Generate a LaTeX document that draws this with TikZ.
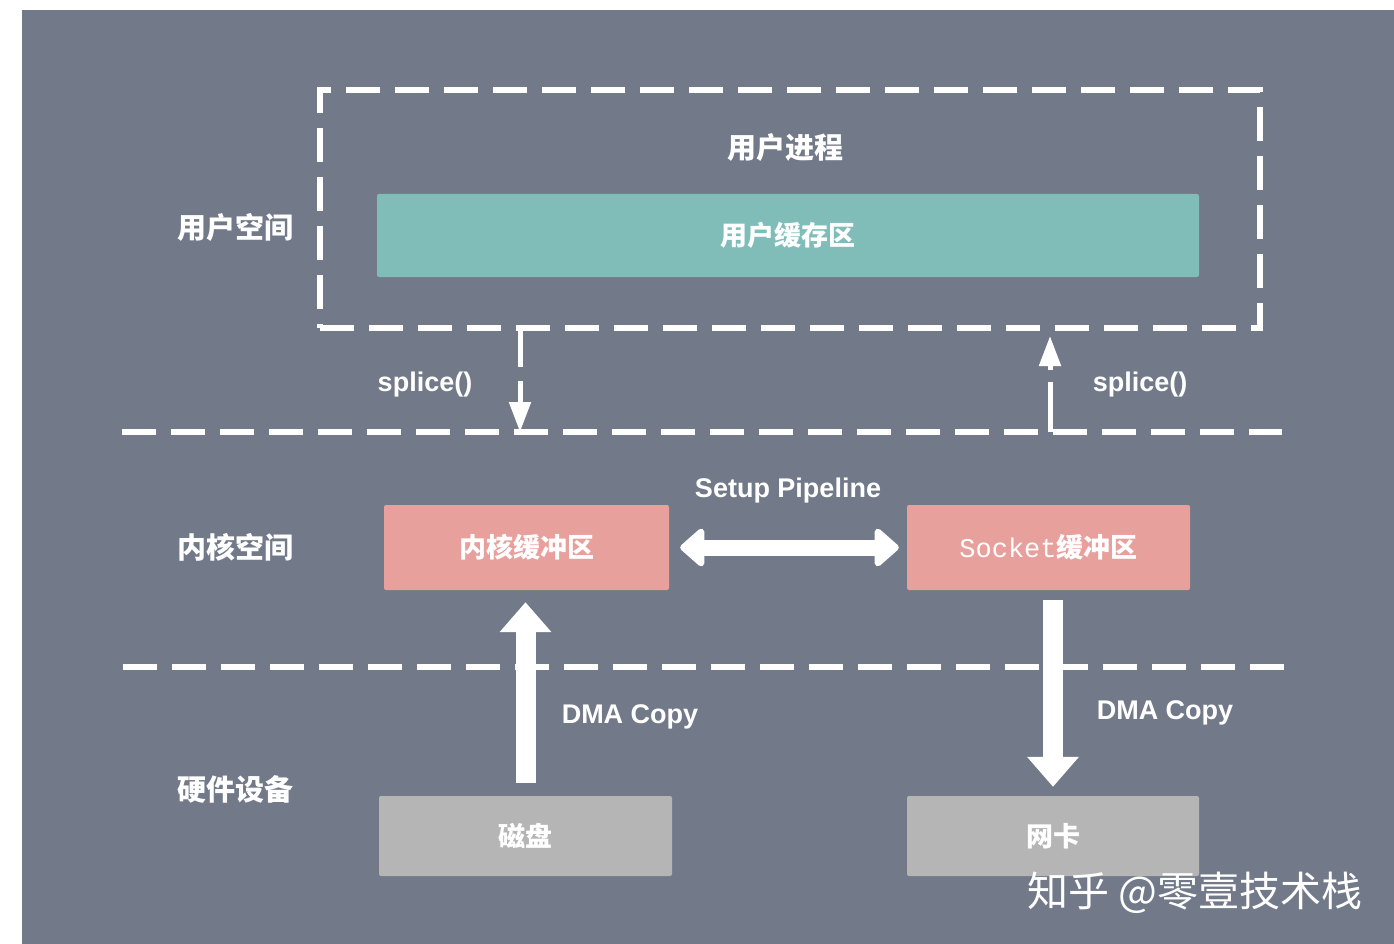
\documentclass[tikz,border=0pt]{standalone}
\usepackage{fontspec}
\setmainfont{Liberation Sans}
\setmonofont{Liberation Mono}
\newfontfamily\cjk{Noto Sans CJK SC}
\usetikzlibrary{arrows.meta}
\definecolor{slate}{HTML}{727988}
\definecolor{bufteal}{HTML}{80BDB9}
\definecolor{bufpink}{HTML}{E8A09D}
\definecolor{devgray}{HTML}{B5B5B5}
\begin{document}
\begin{tikzpicture}[x=1pt,y=-1pt,
	dashline/.style={draw=white,line width=6pt,dash pattern=on 34pt off 15pt},
	bufbox/.style={rounded corners=2pt,inner sep=0pt,text=white,font=\cjk\bfseries\fontsize{27}{32}\selectfont},
	sidetext/.style={text=white,font=\cjk\bfseries\fontsize{29}{34}\selectfont},
	calltext/.style={text=white,font=\bfseries\fontsize{27}{32}\selectfont},
	splicearrow/.style={white,line width=5pt,dash pattern=on 36pt off 14pt,-{Triangle[length=30pt,width=21pt]}},
	fatarrow/.style={white,line width=20pt,-{Triangle[length=30pt,width=50pt]}},
	pipearrow/.style={white,line width=16pt,{Triangle[length=26pt,width=44pt,round]}-{Triangle[length=26pt,width=44pt,round]}}]
			\useasboundingbox (0,0) rectangle (1394,944);
			\fill[white] (0,0) rectangle (1394,944);
			\fill[slate] (22,10) rectangle (1394,944);
			% user space
			\node[dashline,minimum width=940pt,minimum height=238pt] (proc) at (790,209) {};
			\node[sidetext] (procname) at (785,148) {用户进程};
			\node[bufbox,fill=bufteal,minimum width=822pt,minimum height=83pt] (ubuf) at (788,235.5) {用户缓存区};
			\node[sidetext] (uspace) at (235,227) {用户空间};
			% separators
			\coordinate (kl) at (122,432);
			\coordinate (kr) at (1282,432);
			\coordinate (hl) at (123,667);
			\coordinate (hr) at (1290,667);
			\draw[dashline] (kl) -- (kr);
			\draw[dashline] (hl) -- (hr);
			% kernel space
			\node[sidetext] (kspace) at (235,547) {内核空间};
			\node[bufbox,fill=bufpink,minimum width=285pt,minimum height=85pt] (kbuf) at (526.5,547.5) {内核缓冲区};
			\node[bufbox,fill=bufpink,minimum width=283pt,minimum height=85pt] (sbuf) at (1048.5,547.5) {\ttfamily\mdseries Socket\cjk\bfseries 缓冲区};
			\node[calltext] (pipe) at (788,491) {Setup Pipeline};
			% hardware
			\node[sidetext] (hspace) at (235,789) {硬件设备};
			\node[bufbox,fill=devgray,minimum width=293pt,minimum height=80pt] (disk) at (525.5,836) {磁盘};
			\node[bufbox,fill=devgray,minimum width=292pt,minimum height=80pt] (nic) at (1053,836) {网卡};
			% calls
			\coordinate (sin) at (520,432);
			\coordinate (sout) at (1050,432);
			\draw[splicearrow] (proc.south -| sin) -- (sin);
			\draw[splicearrow,dash pattern=on 50pt off 12pt,shorten >=5pt] (sout) -- (proc.south -| sout);
			\node[calltext] (splin) at (425,385) {splice()};
			\node[calltext] (splout) at (1140,385) {splice()};
			\draw[pipearrow,shorten <=11pt,shorten >=8pt] (kbuf.east) -- (sbuf.west);
			\draw[fatarrow,shorten <=13pt,shorten >=12pt] (disk.north) -- (disk.north |- kbuf.south);
			\draw[fatarrow,shorten <=10pt,shorten >=9pt] (nic.north |- sbuf.south) -- (nic.north);
			\node[calltext] (dmain) at (630,717) {DMA Copy};
			\node[calltext] (dmaout) at (1165,713) {DMA Copy};
			\node[text=white,font=\cjk\fontsize{41}{48}\selectfont] (mark) at (1195,893) {知乎 @零壹技术栈};
		\end{tikzpicture}
\end{document}
